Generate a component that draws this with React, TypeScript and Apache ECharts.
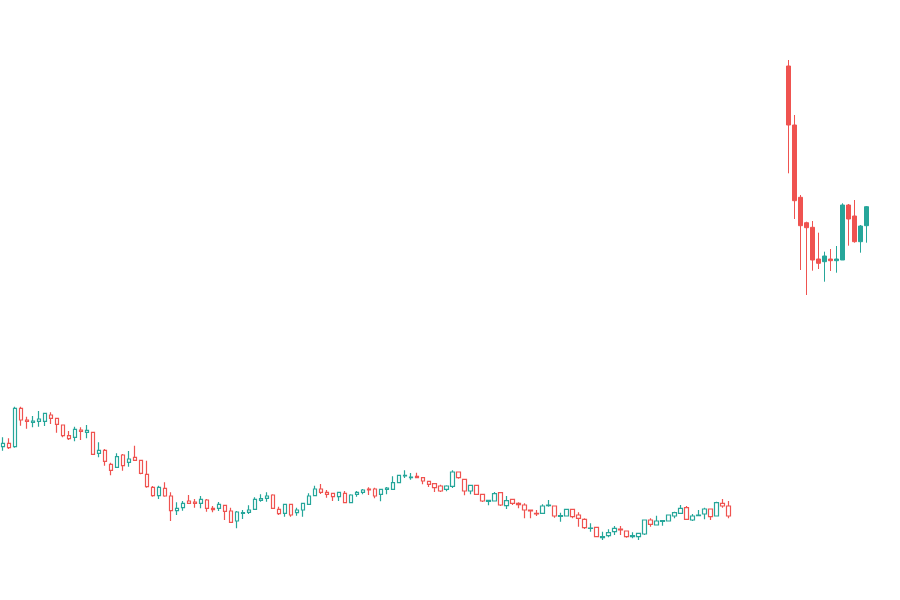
import React, { useEffect, useRef } from "react";
import * as echarts from "echarts";

// Each candle: [open, close, lowest, highest]
const historyCandles: number[][] = [
  [153.3, 156.7, 149.3, 162.7], [156.7, 152.3, 151, 161.7], [153.3, 191.7, 152.3, 193.3], [191.7, 180, 174.3, 193.3],
  [180, 178.7, 171.3, 183.3], [177.7, 179, 172.7, 184], [178.7, 181, 173.3, 189], [178.7, 186.7, 174, 186.7],
  [185, 181.7, 176, 187.7], [181.7, 175.7, 167.3, 181.7], [175, 164.3, 162.7, 175], [164.3, 161.3, 160, 169],
  [162.7, 170.7, 158.7, 173.3], [170, 168.7, 160, 172.7], [167.7, 169.7, 161.7, 175], [167.7, 145.7, 145.7, 167.7],
  [146.7, 149.7, 142.7, 157.7], [149.7, 138.7, 134.3, 151], [135.7, 129.7, 124.7, 137.3], [132.7, 143.3, 132.7, 146.7],
  [145, 134.3, 129.3, 146], [137.7, 141, 133.3, 149], [142.7, 139.7, 139.7, 154.3], [139.7, 126.7, 125.7, 139.7],
  [125.7, 113.3, 112.3, 139.3], [112.7, 104.3, 103.3, 114], [104.3, 112.7, 101, 114.3], [111.7, 104, 103.3, 117.7],
  [104, 89.3, 79, 107.7], [89.3, 91.7, 85, 97.7], [92.3, 96.7, 89.3, 99], [99, 96.7, 96.7, 105],
  [98, 96.7, 92.3, 101], [96.7, 100.7, 91.7, 104], [100, 91.7, 88.3, 101], [91.7, 90.3, 87.7, 94],
  [91.7, 95.7, 89, 98], [94.7, 88.7, 80, 94.7], [89, 77.7, 77.7, 92.3], [79, 88, 71.7, 89],
  [86.7, 87.3, 81, 90], [87.7, 90, 86, 94.7], [90.7, 100.7, 90, 102.7], [99.7, 101.3, 98.3, 105.7],
  [101.7, 104, 98.3, 107.7], [105, 91.7, 91.7, 105.7], [90.7, 86.3, 85, 93.3], [86.7, 95.7, 83.3, 95.7],
  [95.7, 85, 83.3, 95.7], [87.3, 90, 84.3, 92.3], [90, 96.7, 83.3, 97.3], [95.7, 104, 95, 106.7],
  [104.3, 111, 104.3, 114.3], [111, 107.7, 106, 116], [107.7, 105.7, 102.3, 110], [106.7, 103.3, 99, 106.7],
  [103.3, 107.7, 99, 107.7], [106.7, 97.3, 96.7, 109], [97.3, 105, 96.7, 105.7], [105.7, 107.7, 103.3, 109],
  [107.7, 110, 105.7, 111], [111, 110, 105, 112.7], [111, 104, 101.7, 112.3], [105.7, 110.7, 98.7, 111.3],
  [110.7, 112, 105.7, 113], [110.7, 117.3, 110.7, 123.7], [117.3, 124.7, 117.3, 125.3], [124, 124.7, 122, 129.7],
  [122.3, 123, 120.3, 127], [123.7, 122.3, 122.3, 127.3], [122.3, 119, 115.7, 122.3], [118.7, 115.7, 113, 118.7],
  [116.3, 112.3, 108, 116.3], [114, 109, 108, 115.3], [110.7, 114, 108.7, 114.7], [113.7, 128, 112, 129.7],
  [128, 122.3, 121.3, 128], [120.7, 109, 104.7, 120.7], [109, 114.7, 105.7, 114.7], [114.7, 105.7, 105.7, 114.7],
  [105.7, 99, 98, 105.7], [98.7, 99.7, 94.7, 99.7], [99, 106.3, 99, 108], [107.3, 95, 94, 107.3],
  [94.3, 99.3, 91, 104], [100.7, 96.7, 95, 100.7], [96.7, 95.3, 91.7, 97.7], [95, 90, 81.7, 96.7],
  [90, 89, 81.7, 90], [86.7, 86, 84, 90], [86.7, 94, 86.7, 95.7], [94.3, 95, 93.3, 100],
  [94, 84, 82.3, 94], [83.7, 84.3, 78.3, 87.3], [84, 90.7, 84, 90.7], [90.7, 83.3, 81.7, 90.7],
  [85, 81.7, 73.3, 87.7], [80.7, 72.3, 71, 81.7], [71.7, 72, 68.3, 76.7], [72.7, 63.3, 62.7, 72.7],
  [62.3, 63.3, 60, 68.3], [64.3, 67.3, 62.7, 70.7], [68.3, 71.7, 65, 74], [71, 70, 65, 74],
  [69, 63.3, 62.3, 69], [63.3, 64.3, 61.7, 67.7], [63.3, 66.7, 60, 66.7], [66, 80, 65, 80],
  [80, 75.7, 73.3, 81.7], [75, 79, 75, 84.3], [78.7, 79.3, 74.3, 80], [79, 85, 79, 85],
  [84, 87.3, 81.7, 88.3], [86.7, 91.7, 86.7, 95], [92.3, 80.7, 80.7, 94], [80, 84, 79, 86],
  [84.3, 85, 84.3, 90], [86, 91, 80.7, 92.3], [91, 83.3, 80, 91], [84, 97.3, 84, 98.3],
  [96.7, 94, 92.3, 101], [94, 84, 81.7, 99],
];

const recentStart = 131;
const recentCandles: number[][] = [
  [534, 475, 426.7, 540], [475, 399.3, 381, 485], [402.7, 374.3, 330, 405], [377.3, 372.3, 305, 378.3],
  [372.7, 340, 329.3, 379], [341, 336.7, 331, 367.3], [338.3, 344, 318.3, 348.3], [341, 339.3, 329, 351],
  [339.3, 341, 327.3, 354], [340, 395, 340, 396.7], [395, 381, 354.3, 396], [384, 358.3, 357.3, 400],
  [358.3, 374, 347.3, 375], [374.3, 393.3, 357.3, 394],
];

const categoryCount = 145;
const categories: string[] = Array.from({ length: categoryCount }, (_, i) => String(i + 1));

const UP = "#26a69a";
const DOWN = "#ef5350";

export default function App() {
  const ref = useRef<HTMLDivElement>(null);
  useEffect(() => {
    if (!ref.current) return;
    const chart = echarts.init(ref.current, undefined, { renderer: "svg" });
    const histData = historyCandles.map((c, i) => [i, c[0], c[1], c[2], c[3]]);
    const recentData = recentCandles.map((c, i) => [recentStart + i, c[0], c[1], c[2], c[3]]);
    chart.setOption({
      animation: false,
      backgroundColor: "#ffffff",
      grid: { left: -0.5, width: 870, top: 0, bottom: 0 },
      xAxis: {
        type: "category",
        data: categories,
        show: false,
        boundaryGap: true,
      },
      yAxis: {
        type: "value",
        min: 0,
        max: 600,
        show: false,
        splitLine: { show: false },
      },
      series: [
        {
          type: "candlestick",
          data: histData,
          encode: { x: 0, y: [1, 2, 3, 4] },
          barWidth: 4,
          itemStyle: {
            color: "#ffffff",
            color0: "#ffffff",
            borderColor: UP,
            borderColor0: DOWN,
            borderWidth: 1.2,
          },
        },
        {
          type: "candlestick",
          data: recentData,
          encode: { x: 0, y: [1, 2, 3, 4] },
          barWidth: 4,
          itemStyle: {
            color: UP,
            color0: DOWN,
            borderColor: UP,
            borderColor0: DOWN,
            borderWidth: 1,
          },
        },
      ],
    });
    return () => chart.dispose();
  }, []);
  return (
    <div
      ref={ref}
      style={{ position: "fixed", left: 0, top: 0, width: 900, height: 600 }}
    />
  );
}
